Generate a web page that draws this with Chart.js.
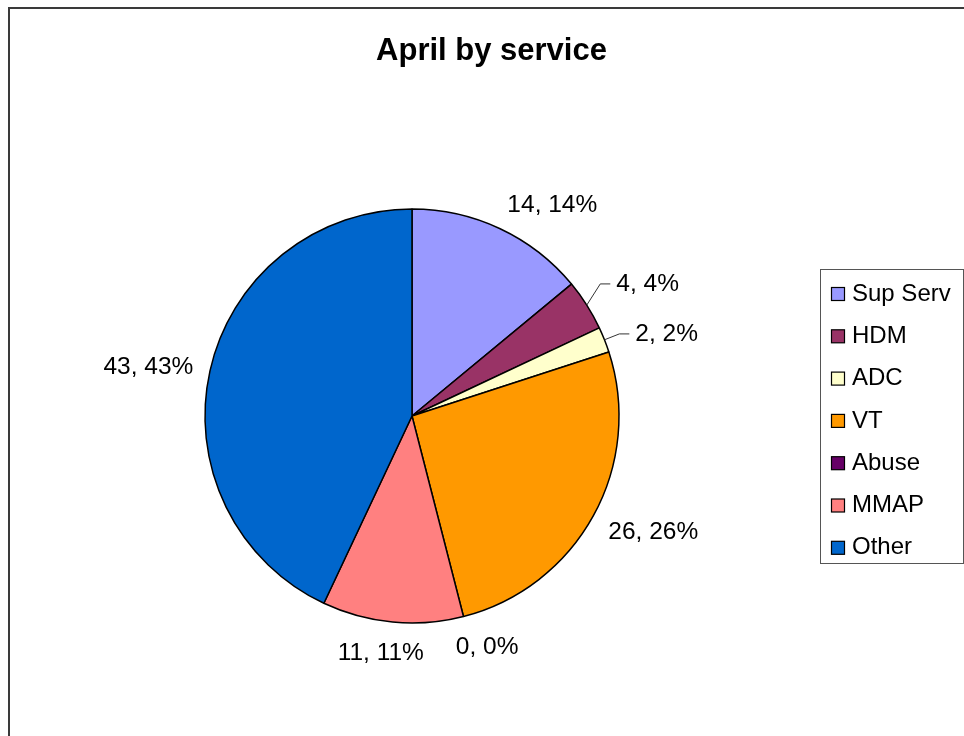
<!DOCTYPE html>
<html>
<head>
<meta charset="utf-8">
<title>April by service</title>
<script src="https://cdn.jsdelivr.net/npm/chart.js@4/dist/chart.umd.min.js"></script>
<style>
	html, body { margin: 0; padding: 0; background: #fff; }
	#chart { display: block; }
</style>
</head>
<body>
<canvas id="chart" width="964" height="736"></canvas>
<script>
// April by service — pie with value/percent labels and boxed legend
const titleText = "April by service";
const categories = ["Sup Serv", "HDM", "ADC", "VT", "Abuse", "MMAP", "Other"];
const counts = [14, 4, 2, 26, 0, 11, 43];
const percents = [14, 4, 2, 26, 0, 11, 43];
const sliceColors = ["#9999FF", "#993366", "#FFFFCC", "#FF9900", "#660066", "#FF8080", "#0066CC"];

const FONT = '"Liberation Sans", Arial, Helvetica, sans-serif';

const decorPlugin = {
	id: "decor",
	afterDraw(chart) {
		const ctx = chart.ctx;
		ctx.save();

		// outer frame (runs off the right/bottom edge like the original)
		ctx.strokeStyle = "#3a3a3a";
		ctx.lineWidth = 2;
		ctx.strokeRect(9, 8, 2000, 2000);

		// title
		ctx.fillStyle = "#000";
		ctx.font = `bold 31px ${FONT}`;
		ctx.textAlign = "center";
		ctx.textBaseline = "middle";
		ctx.fillText(titleText, 491.5, 51);

		// legend box
		ctx.strokeStyle = "#555";
		ctx.lineWidth = 1;
		ctx.strokeRect(820.5, 269.5, 143, 294);
		ctx.font = `24px ${FONT}`;
		ctx.textAlign = "left";
		categories.forEach((name, i) => {
			const cy = 294 + i * 42.3;
			ctx.fillStyle = sliceColors[i];
			ctx.fillRect(831.5, cy - 6.5, 13, 13);
			ctx.strokeStyle = "#000";
			ctx.lineWidth = 1.2;
			ctx.strokeRect(831.5, cy - 6.5, 13, 13);
			ctx.fillStyle = "#000";
			ctx.fillText(name, 852, cy);
		});

		// data labels
		const meta = chart.getDatasetMeta(0);
		ctx.font = `24.5px ${FONT}`;
		ctx.textBaseline = "middle";
		let prevLeaderY = null;
		const order = meta.data.map((_, i) => i).reverse();
		order.forEach((i) => {
			const arc = meta.data[i];
			const { x, y, startAngle, endAngle, outerRadius } = arc.getProps(
				["x", "y", "startAngle", "endAngle", "outerRadius"], true);
			const mid = (startAngle + endAngle) / 2;
			const cos = Math.cos(mid);
			const sin = Math.sin(mid);
			const text = `${counts[i]}, ${percents[i]}%`;
			const w = ctx.measureText(text).width;
			ctx.fillStyle = "#000";

			if (percents[i] > 0 && percents[i] < 5) {
				// small slice: leader line out to the right
				const ex = x + (outerRadius + 16) * cos;
				let ey = y + (outerRadius + 16) * sin;
				if (prevLeaderY !== null && prevLeaderY - ey < 50) ey = prevLeaderY - 50;
				prevLeaderY = ey;
				ctx.strokeStyle = "#333";
				ctx.lineWidth = 1;
				ctx.beginPath();
				ctx.moveTo(x + outerRadius * cos, y + outerRadius * sin);
				ctx.lineTo(ex, ey);
				ctx.lineTo(ex + 10, ey);
				ctx.stroke();
				ctx.textAlign = "left";
				ctx.fillText(text, ex + 16, ey);
			} else {
				const R = outerRadius + 17;
				const ax = x + R * cos;
				const ay = y + R * sin;
				const f = Math.sign(cos) * Math.min(1, Math.abs(cos) * 2.5);
				ctx.textAlign = "center";
				ctx.fillText(text, ax + f * w / 2, ay + sin * 12 + 2.5);
			}
		});

		ctx.restore();
	},
};

new Chart(document.getElementById("chart"), {
	type: "pie",
	data: {
		labels: categories,
		datasets: [
			{
				data: counts,
				backgroundColor: sliceColors,
				borderColor: "#000",
				borderWidth: 1.5,
			},
		],
	},
	options: {
		responsive: false,
		animation: false,
		events: [],
		radius: 207,
		layout: { padding: { left: 200, right: 340, top: 206, bottom: 110 } },
		plugins: {
			legend: { display: false },
			title: { display: false },
			tooltip: { enabled: false },
		},
	},
	plugins: [decorPlugin],
});
</script>
</body>
</html>
